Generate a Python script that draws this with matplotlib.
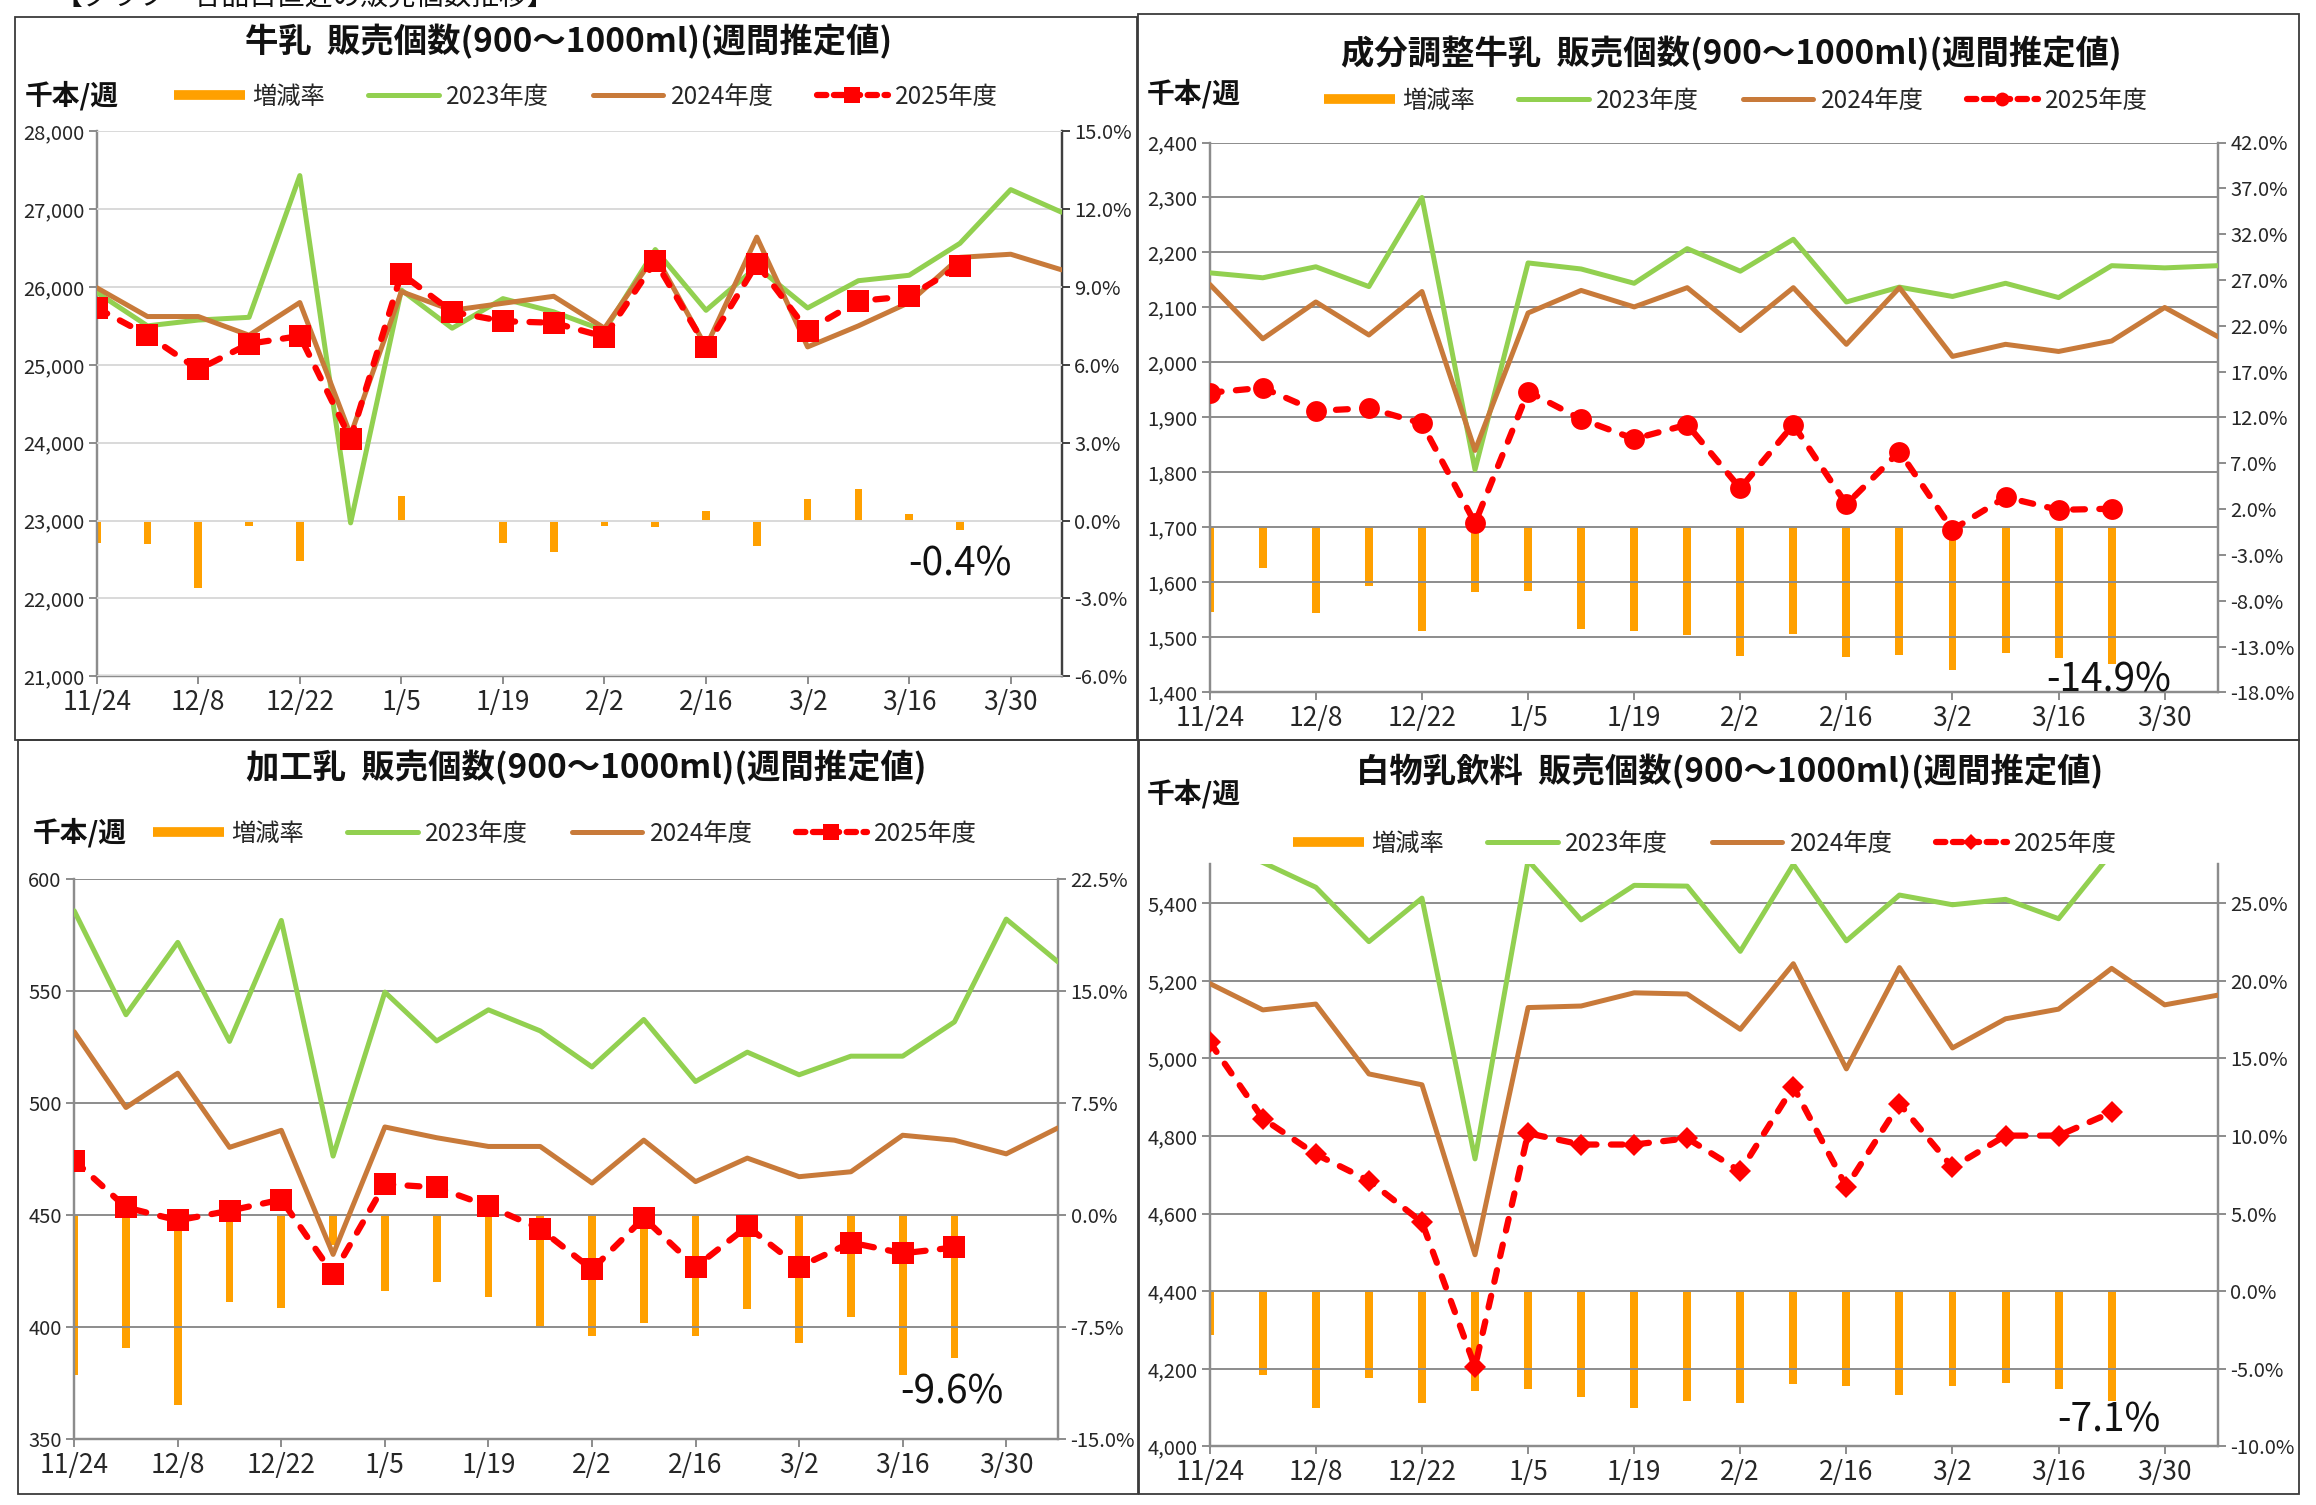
import matplotlib
matplotlib.use("Agg")
import matplotlib.pyplot as plt
from matplotlib.lines import Line2D
from matplotlib.patches import Rectangle
from matplotlib.ticker import FuncFormatter, FixedLocator
import numpy as np

plt.rcParams['font.family'] = ['Noto Sans CJK JP', 'DejaVu Sans']

# ---------------- data ----------------
weeks = ["11/24", "12/1", "12/8", "12/15", "12/22", "12/29", "1/5", "1/12", "1/19", "1/26",
         "2/2", "2/9", "2/16", "2/23", "3/2", "3/9", "3/16", "3/23", "3/30", "4/6"]
series_labels = ["増減率", "2023年度", "2024年度", "2025年度"]

# 牛乳
milk_2023 = [25930, 25500, 25575, 25610, 27430, 22970, 25960, 25470, 25850, 25680,
             25440, 26480, 25700, 26260, 25730, 26080, 26150, 26560, 27250, 26960]
milk_2024 = [25990, 25620, 25620, 25380, 25800, 24100, 25940, 25700, 25790, 25880,
             25470, 26410, 25230, 26640, 25230, 25500, 25800, 26380, 26420, 26220]
milk_2025 = [25730, 25380, 24940, 25270, 25370, 24050, 26170, 25680, 25560, 25540,
             25360, 26330, 25230, 26300, 25440, 25820, 25880, 26270]
milk_rate = [-0.85, -0.9, -2.6, -0.2, -1.55, -0.02, 0.93, -0.03, -0.85, -1.2,
             -0.22, -0.25, 0.38, -0.98, 0.84, 1.2, 0.24, -0.36]

# 成分調整牛乳
adj_2023 = [2163, 2154, 2174, 2138, 2300, 1805, 2181, 2170, 2144, 2207,
            2166, 2224, 2110, 2137, 2120, 2144, 2118, 2176, 2172, 2176]
adj_2024 = [2142, 2043, 2110, 2050, 2129, 1840, 2090, 2131, 2101, 2136,
            2058, 2136, 2033, 2136, 2011, 2033, 2020, 2039, 2100, 2047]
adj_2025 = [1945, 1954, 1912, 1917, 1889, 1708, 1947, 1897, 1861, 1887,
            1771, 1887, 1742, 1838, 1696, 1755, 1732, 1734]
adj_rate = [-9.2, -4.4, -9.3, -6.4, -11.3, -7.0, -6.9, -11.1, -11.3, -11.7,
            -14.0, -11.6, -14.1, -13.9, -15.6, -13.7, -14.2, -14.9]

# 加工乳
proc_2023 = [585.8, 539.4, 571.7, 527.5, 581.5, 476.3, 549.5, 527.7, 541.6, 532.2,
             516.1, 537.3, 509.6, 522.7, 512.6, 520.9, 520.9, 536.2, 582.1, 563.0]
proc_2024 = [531.8, 498.0, 513.3, 480.2, 487.8, 432.4, 489.3, 484.5, 480.6, 480.6,
             464.3, 483.4, 464.9, 475.4, 467.1, 469.3, 485.6, 483.4, 477.3, 488.9]
proc_2025 = [474.3, 453.4, 447.6, 451.9, 456.9, 423.6, 463.8, 462.3, 454.0, 443.8,
             425.7, 448.7, 426.8, 444.9, 426.8, 437.7, 432.9, 435.5]
proc_rate = [-10.7, -8.9, -12.7, -5.8, -6.2, -2.0, -5.1, -4.5, -5.5, -7.5,
             -8.1, -7.2, -8.1, -6.3, -8.6, -6.8, -10.7, -9.6]

# 白物乳飲料
white_2023 = [5560, 5505, 5441, 5301, 5413, 4741, 5510, 5357, 5446, 5444,
              5276, 5500, 5303, 5421, 5396, 5410, 5360, 5530, 5600, 5580]
white_2024 = [5193, 5125, 5140, 4960, 4932, 4494, 5131, 5135, 5169, 5166,
              5075, 5244, 4973, 5234, 5027, 5102, 5127, 5232, 5138, 5163]
white_2025 = [5042, 4845, 4753, 4685, 4578, 4205, 4807, 4778, 4778, 4794,
              4709, 4927, 4669, 4883, 4719, 4801, 4801, 4861]
white_rate = [-2.8, -5.4, -7.5, -5.6, -7.2, -6.4, -6.3, -6.8, -7.5, -7.1,
              -7.2, -6.0, -6.1, -6.7, -6.1, -5.9, -6.3, -7.1]

titles = ["牛乳  販売個数(900～1000ml)(週間推定値)",
          "成分調整牛乳  販売個数(900～1000ml)(週間推定値)",
          "加工乳  販売個数(900～1000ml)(週間推定値)",
          "白物乳飲料  販売個数(900～1000ml)(週間推定値)"]
latest_labels = ["-0.4%", "-14.9%", "-9.6%", "-7.1%"]
header = "【グラフ　各品目直近の販売個数推移】"
unit_label = "千本/週"

# ---------------- styling ----------------
W, H = 2316, 1505
fig = plt.figure(figsize=(W / 100, H / 100), dpi=100)

C_GREEN = "#92D050"
C_BROWN = "#C87A3A"
C_RED = "#FF0000"
C_BAR = "#FFA000"
C_TXT = "#262626"


def rect_px(l, t, r, b):
    return [l / W, 1 - b / H, (r - l) / W, (b - t) / H]


def fx(x):
    return x / W


def fy(y):
    return 1 - y / H


panels = [
    dict(rect=(96.7, 131.2, 1061.5, 676.3), d23=milk_2023, d24=milk_2024, d25=milk_2025, rate=milk_rate,
         ylim=(21000, 28000), yticks=np.arange(21000, 28001, 1000), comma=True,
         rlim=(-6, 15), rticks=np.arange(-6, 15.01, 3), marker='s', ms=16, lms=11,
         grid="#D9D9D9", rspine="#404040",
         title_xy=(569, 42), unit_xy=(25, 96), leg_xy=(586, 97), ann_xy=(960, 565), border=(14.5, 16.5, 1137, 740)),
    dict(rect=(1209.75, 142.5, 2217.75, 692.4), d23=adj_2023, d24=adj_2024, d25=adj_2025, rate=adj_rate,
         ylim=(1400, 2400), yticks=np.arange(1400, 2401, 100), comma=True,
         rlim=(-18, 42), rticks=np.arange(-18, 42.01, 5), marker='o', ms=15, lms=10,
         grid="#8C8C8C", rspine="#8C8C8C",
         title_xy=(1731, 54), unit_xy=(1147, 94), leg_xy=(1736, 100.5), ann_xy=(2109, 680), border=(1138, 14, 2299, 740)),
    dict(rect=(74.2, 879, 1058, 1439), d23=proc_2023, d24=proc_2024, d25=proc_2025, rate=proc_rate,
         ylim=(350, 600), yticks=np.arange(350, 601, 50), comma=False,
         rlim=(-15, 22.5), rticks=np.arange(-15, 22.51, 7.5), marker='s', ms=16, lms=11,
         grid="#8C8C8C", rspine="#8C8C8C",
         title_xy=(586, 768), unit_xy=(33, 833), leg_xy=(565, 834), ann_xy=(952, 1393), border=(18, 740, 1138, 1494)),
    dict(rect=(1209.75, 864.4, 2217.75, 1446.4), d23=white_2023, d24=white_2024, d25=white_2025, rate=white_rate,
         ylim=(4000, 5500), yticks=np.arange(4000, 5401, 200), comma=True,
         rlim=(-10, 27.5), rticks=np.arange(-10, 25.01, 5), marker='D', ms=11, lms=8,
         grid="#8C8C8C", rspine="#8C8C8C",
         title_xy=(1730, 772), unit_xy=(1147, 794), leg_xy=(1705, 844), ann_xy=(2109, 1420), border=(1139, 740, 2299, 1494)),
]

x_all = np.arange(len(weeks))

for k, p in enumerate(panels):
    axb = fig.add_axes(rect_px(*p['rect']))   # bars / percent axis (right)
    axl = axb.twinx()                          # counts axis (left)
    axl.yaxis.tick_left()
    axl.yaxis.set_label_position('left')
    axb.yaxis.tick_right()
    axb.yaxis.set_label_position('right')

    n25 = len(p['d25'])
    axb.bar(x_all[:n25], p['rate'], width=0.15, color=C_BAR, zorder=2)
    axb.set_ylim(*p['rlim'])
    axb.yaxis.set_major_locator(FixedLocator(p['rticks']))
    axb.yaxis.set_major_formatter(FuncFormatter(lambda v, pos: f"{v:.1f}%"))

    axl.plot(x_all, p['d23'], color=C_GREEN, lw=3.6, solid_capstyle='round', solid_joinstyle='round', zorder=3)
    axl.plot(x_all, p['d24'], color=C_BROWN, lw=3.6, solid_capstyle='round', solid_joinstyle='round', zorder=4)
    l25, = axl.plot(x_all[:n25], p['d25'], color=C_RED, lw=4.5, marker=p['marker'], ms=p['ms'],
                    markeredgewidth=0, dash_capstyle='round', zorder=5)
    l25.set_dashes((1.9, 2.3))
    axl.set_ylim(*p['ylim'])
    axl.yaxis.set_major_locator(FixedLocator(p['yticks']))
    if p['comma']:
        axl.yaxis.set_major_formatter(FuncFormatter(lambda v, pos: f"{int(v):,}"))
    else:
        axl.yaxis.set_major_formatter(FuncFormatter(lambda v, pos: f"{int(v)}"))
    axl.grid(axis='y', color=p['grid'], lw=1.4)
    axl.set_axisbelow(False)

    for a in (axb, axl):
        a.set_xlim(0, len(weeks) - 1)
        a.set_xticks(x_all[::2])
        a.set_xticklabels(weeks[::2])
        a.spines['top'].set_visible(False)
        a.spines['left'].set_color("#8C8C8C")
        a.spines['bottom'].set_color("#8C8C8C")
        a.spines['right'].set_color(p['rspine'])
        for s in ('left', 'bottom', 'right'):
            a.spines[s].set_linewidth(1.6)
    axb.tick_params(axis='x', direction='out', length=6, width=1.4, color="#8C8C8C",
                    labelsize=19, labelcolor=C_TXT, pad=3)
    axl.tick_params(axis='x', bottom=False, labelbottom=False)
    axl.tick_params(axis='y', direction='out', length=6, width=1.4, color="#8C8C8C",
                    labelsize=14.5, labelcolor=C_TXT, pad=3)
    axb.tick_params(axis='y', direction='out', length=6, width=1.4, color=p['rspine'],
                    labelsize=14.5, labelcolor=C_TXT, pad=3)

    # legend
    handles = [
        Line2D([], [], color=C_BAR, lw=7, solid_capstyle='butt'),
        Line2D([], [], color=C_GREEN, lw=3.6, solid_capstyle='round'),
        Line2D([], [], color=C_BROWN, lw=3.6, solid_capstyle='round'),
        Line2D([], [], color=C_RED, lw=4.5, marker=p['marker'], ms=p['lms'], markeredgewidth=0,
               dashes=(1.5, 1.2), dash_capstyle='round'),
    ]
    fig.legend(handles, series_labels, loc='center', ncol=4, frameon=False,
               bbox_to_anchor=(fx(p['leg_xy'][0]), fy(p['leg_xy'][1])),
               fontsize=17.5, handlelength=2.9, handletextpad=0.3, columnspacing=1.8,
               labelcolor=C_TXT, borderaxespad=0, borderpad=0)

    fig.text(fx(p['title_xy'][0]), fy(p['title_xy'][1]), titles[k], ha='center', va='center',
             fontsize=24, fontweight='bold', color="#111111")
    fig.text(fx(p['unit_xy'][0]), fy(p['unit_xy'][1]), unit_label, ha='left', va='center',
             fontsize=20, fontweight='bold', color="#111111")
    fig.text(fx(p['ann_xy'][0]), fy(p['ann_xy'][1]), latest_labels[k], ha='center', va='center',
             fontsize=28, color="#111111")

    bl, bt, br, bb = p['border']
    fig.add_artist(Rectangle((fx(bl), fy(bb)), fx(br - bl), (bb - bt) / H, fill=False,
                             edgecolor="#3A3A3A", lw=1.3, transform=fig.transFigure))

fig.text(fx(305), fy(-3), header, ha='center', va='center', fontsize=20, color="#111111")

fig.savefig("out.png", dpi=100, facecolor='white')
